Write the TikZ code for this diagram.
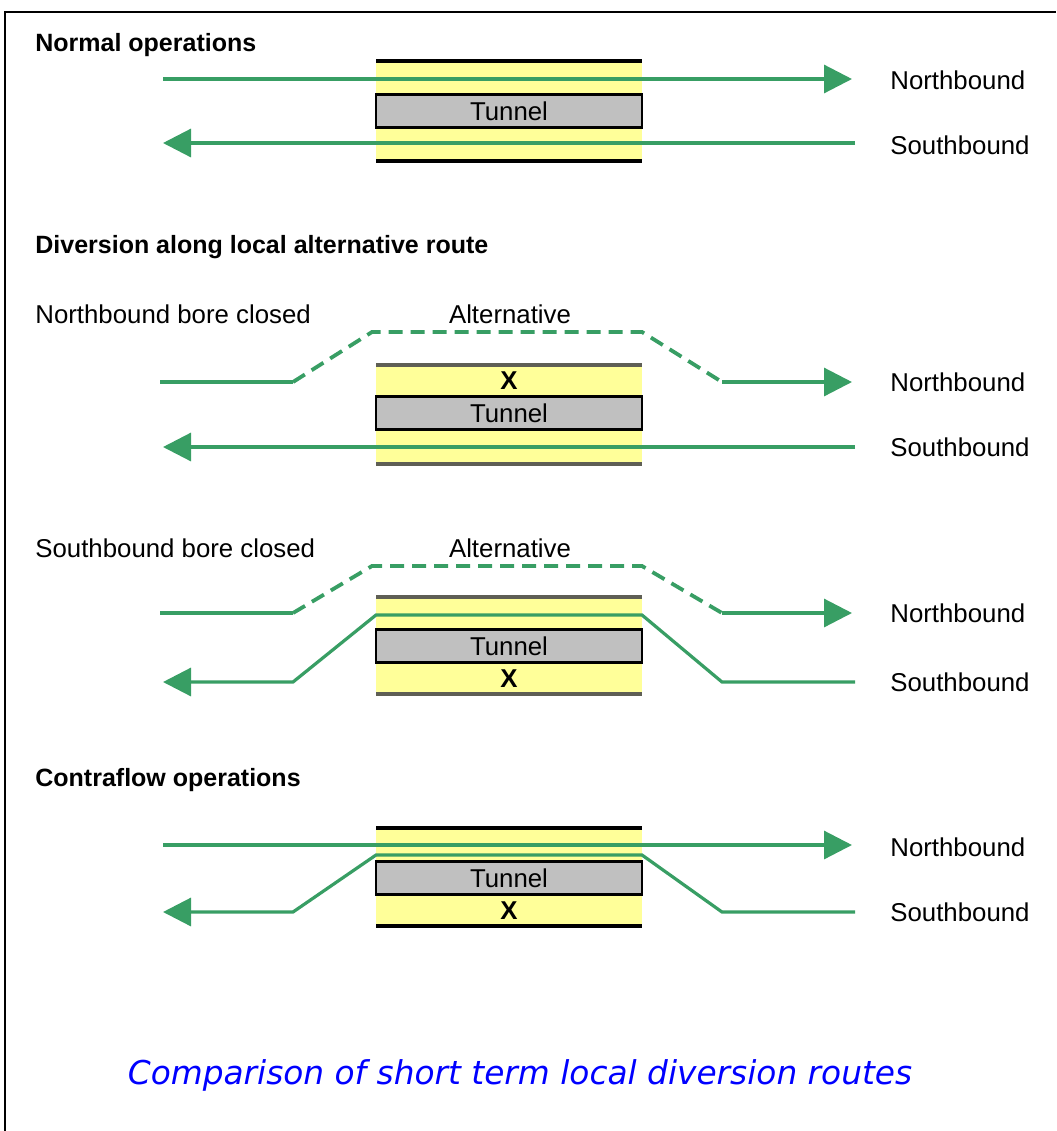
\documentclass[tikz,border=0pt]{standalone}
\usepackage{fontspec}
\setmainfont{Liberation Sans}
\newfontfamily\capfont{DejaVu Sans}
\usetikzlibrary{arrows.meta}
\definecolor{roadgreen}{RGB}{56,158,100}
\definecolor{laneyellow}{RGB}{255,255,153}
\definecolor{tubegray}{RGB}{192,192,192}
\definecolor{rimgray}{RGB}{95,95,85}
\begin{document}
\begin{tikzpicture}[x=0.5pt, y=-0.5pt,
  every node/.style={inner sep=0pt, font=\fontsize{12.9}{15}\selectfont},
  heading/.style={anchor=west, font=\bfseries\fontsize{12.5}{15}\selectfont},
  sidelabel/.style={anchor=west},
  closed/.style={font=\bfseries\fontsize{12.9}{15}\selectfont},
  tube/.style={draw=black, line width=1.2pt, fill=tubegray,
               minimum width=133pt, minimum height=16.5pt},
  lane/.style={fill=laneyellow},
  rim/.style={line width=2pt},
  thinrim/.style={draw=rimgray, line width=1.7pt},
  road/.style={draw=roadgreen, line width=1.6pt},
  alt/.style={road, line width=1.9pt, dash pattern=on 7pt off 4pt},
  arr/.style={-{Triangle[length=14pt,width=14pt]}}]
  \useasboundingbox (0,0) rectangle (1056,1131);
  \draw[line width=1pt] (5,1131) -- (5,12) -- (1056,12);

  % normal operations
  \node[heading] (h1) at (35,45) {Normal operations};
  \fill[lane] (376,61) rectangle (642,161);
  \draw[rim] (376,61) -- (642,61);
  \draw[rim] (376,161) -- (642,161);
  \node[tube] (t1) at (509,111) {Tunnel};
  \coordinate (n1a) at (163,79);  \coordinate (n1b) at (852,79);
  \coordinate (s1a) at (855,143); \coordinate (s1b) at (163,143);
  \draw[road,arr] (n1a) -- (n1b);
  \draw[road,arr] (s1a) -- (s1b);
  \node[sidelabel] (nb1) at (890,80) {Northbound};
  \node[sidelabel] (sb1) at (890,145) {Southbound};

  % diversion, northbound bore closed
  \node[heading] (h2) at (35,247) {Diversion along local alternative route};
  \node[sidelabel] (c2) at (35,314) {Northbound bore closed};
  \node (a2) at (510,314) {Alternative};
  \fill[lane] (376,365) rectangle (642,464);
  \draw[thinrim] (376,365) -- (642,365);
  \draw[thinrim] (376,464) -- (642,464);
  \node[tube] (t2) at (509,413) {Tunnel};
  \node[closed] (x2) at (509,381) {X};
  \coordinate (n2a) at (160,382); \coordinate (n2b) at (293,382);
  \coordinate (n2c) at (372,332); \coordinate (n2d) at (642,332);
  \coordinate (n2e) at (722,382); \coordinate (n2f) at (852,382);
  \coordinate (s2a) at (855,447); \coordinate (s2b) at (163,447);
  \draw[road] (n2a) -- (n2b);
  \draw[alt] (n2b) -- (n2c) -- (n2d) -- (n2e);
  \draw[road,arr] (n2e) -- (n2f);
  \draw[road,arr] (s2a) -- (s2b);
  \node[sidelabel] (nb2) at (890,382) {Northbound};
  \node[sidelabel] (sb2) at (890,447) {Southbound};

  % diversion, southbound bore closed
  \node[sidelabel] (c3) at (35,548) {Southbound bore closed};
  \node (a3) at (510,548) {Alternative};
  \fill[lane] (376,597) rectangle (642,694);
  \draw[thinrim] (376,597) -- (642,597);
  \draw[thinrim] (376,694) -- (642,694);
  \node[tube] (t3) at (509,646) {Tunnel};
  \node[closed] (x3) at (509,679) {X};
  \coordinate (n3a) at (160,613); \coordinate (n3b) at (293,613);
  \coordinate (n3c) at (372,566); \coordinate (n3d) at (642,566);
  \coordinate (n3e) at (722,613); \coordinate (n3f) at (852,613);
  \coordinate (s3a) at (855,682); \coordinate (s3b) at (722,682);
  \coordinate (s3c) at (642,615); \coordinate (s3d) at (376,615);
  \coordinate (s3e) at (293,682); \coordinate (s3f) at (163,682);
  \draw[road] (n3a) -- (n3b);
  \draw[alt] (n3b) -- (n3c) -- (n3d) -- (n3e);
  \draw[road,arr] (n3e) -- (n3f);
  \draw[road,arr] (s3a) -- (s3b) -- (s3c) -- (s3d) -- (s3e) -- (s3f);
  \node[sidelabel] (nb3) at (890,613) {Northbound};
  \node[sidelabel] (sb3) at (890,682) {Southbound};

  % contraflow
  \node[heading] (h4) at (35,780) {Contraflow operations};
  \fill[lane] (376,828) rectangle (642,926);
  \draw[rim] (376,828) -- (642,828);
  \draw[rim] (376,926) -- (642,926);
  \node[tube] (t4) at (509,878) {Tunnel};
  \node[closed] (x4) at (509,911) {X};
  \coordinate (n4a) at (163,845); \coordinate (n4b) at (852,845);
  \coordinate (s4a) at (855,912); \coordinate (s4b) at (722,912);
  \coordinate (s4c) at (642,855); \coordinate (s4d) at (376,855);
  \coordinate (s4e) at (293,912); \coordinate (s4f) at (163,912);
  \draw[road,arr] (n4a) -- (n4b);
  \draw[road,arr] (s4a) -- (s4b) -- (s4c) -- (s4d) -- (s4e) -- (s4f);
  \node[sidelabel] (nb4) at (890,847) {Northbound};
  \node[sidelabel] (sb4) at (890,912) {Southbound};

  \node[text=blue, font=\capfont\itshape\fontsize{16.4}{20}\selectfont] (cap) at (520,1075)
    {Comparison of short term local diversion routes};
\end{tikzpicture}
\end{document}
